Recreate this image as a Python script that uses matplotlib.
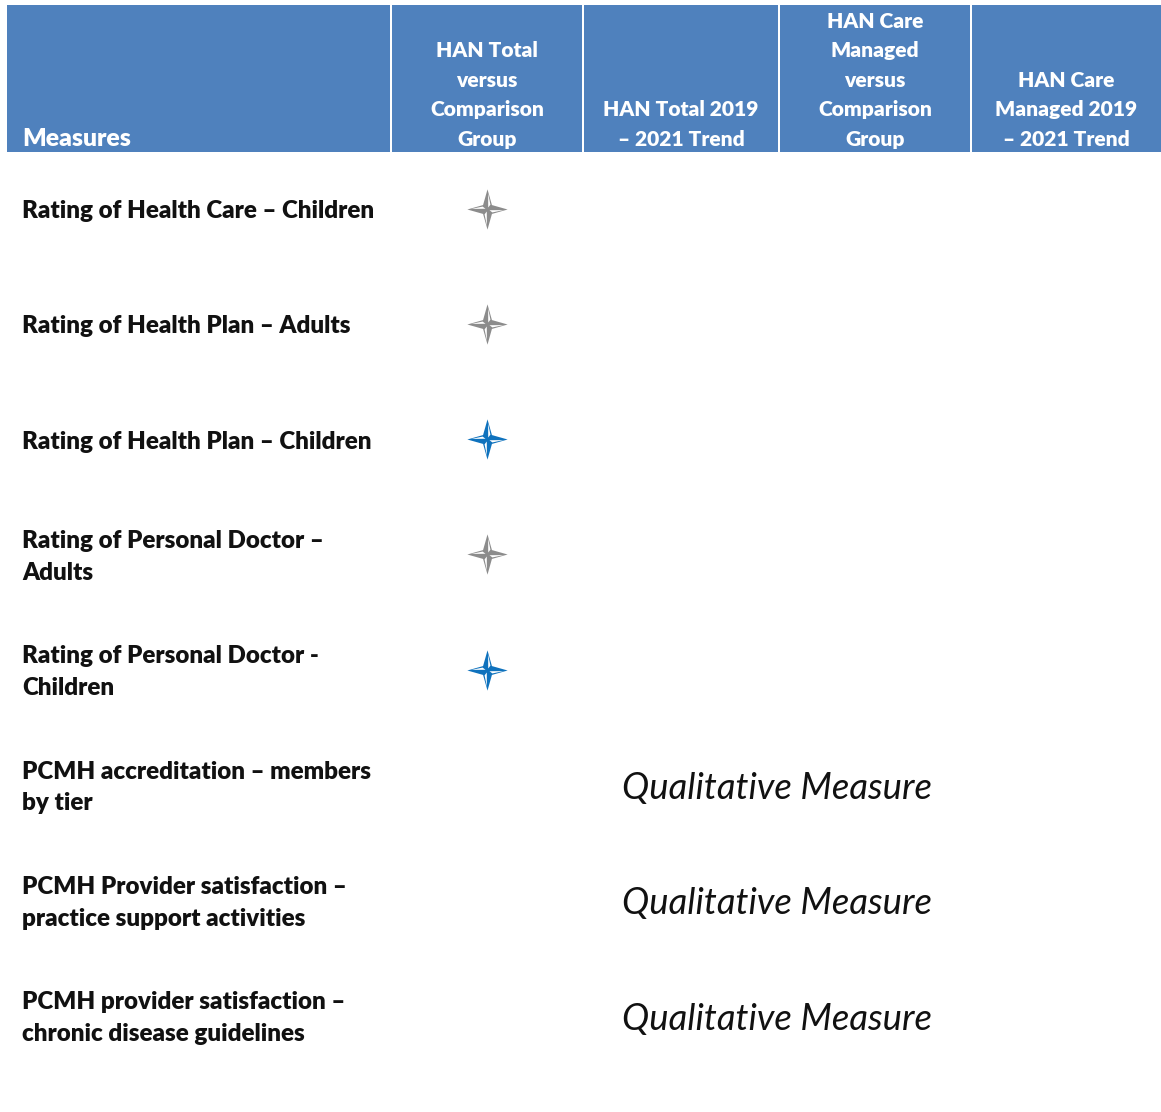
import numpy as np
import matplotlib
matplotlib.use('Agg')
import matplotlib.pyplot as plt
from matplotlib.path import Path
from matplotlib.patches import Rectangle

headers = ['Measures', 'HAN Total\nversus\nComparison\nGroup', 'HAN Total 2019\n– 2021 Trend',
           'HAN Care\nManaged\nversus\nComparison\nGroup', 'HAN Care\nManaged 2019\n– 2021 Trend']
measures = ['Rating of Health Care – Children', 'Rating of Health Plan – Adults',
            'Rating of Health Plan – Children', 'Rating of Personal Doctor –\nAdults',
            'Rating of Personal Doctor -\nChildren', 'PCMH accreditation – members\nby tier',
            'PCMH Provider satisfaction –\npractice support activities',
            'PCMH provider satisfaction –\nchronic disease guidelines']
# 'gray' / 'blue' star in first column, None = qualitative row
ratings = ['gray', 'gray', 'blue', 'gray', 'blue', None, None, None]
qualitative_label = 'Qualitative Measure'

star_colors = {'gray': '#8c8c8c', 'blue': '#0f72bd'}
header_color = '#4f81bd'
col_edges = [7, 392, 584, 780, 972, 1161]
row_y0 = 210
row_pitch = 115.3
font = 'Lato'

# one arm pointing up, then turned through the four directions
def rotated(verts, k):
    a = -k * np.pi / 2
    rot = np.array([[np.cos(a), -np.sin(a)], [np.sin(a), np.cos(a)]])
    return verts @ rot.T

def star_paths():
    arm = np.array([[-0.22, 0.22], [0, 1], [0.22, 0.22], [0, 0]])
    sliver = np.array([[0.035, 0.2], [0.03, 0.8], [0.145, 0.24], [0.035, 0.1]])
    outer = np.vstack([rotated(arm, k) for k in range(4)])
    outer_path = Path(np.vstack([outer, outer[:1]]), closed=True)
    v = []
    c = []
    for k in range(4):
        s = rotated(sliver, k)
        v += list(s) + [s[0]]
        c += [Path.MOVETO, Path.LINETO, Path.LINETO, Path.LINETO, Path.CLOSEPOLY]
    return outer_path, Path(np.array(v), c)

fig = plt.figure(figsize=(11.61, 11.12), dpi=100)
ax = fig.add_axes([0, 0, 1, 1])
ax.set_xlim(0, 1161)
ax.set_ylim(1112, 0)
ax.axis('off')

for i, h in enumerate(headers):
    left, right = col_edges[i], col_edges[i + 1]
    gap = 2 if i < len(headers) - 1 else 0
    ax.add_patch(Rectangle((left, 5), right - left - gap, 147, fc=header_color, ec='none'))
    if i == 0:
        ax.text(22, 149.5, h, color='white', fontsize=17.8, fontweight=800, family=font, ha='left', va='bottom')
    else:
        ax.text((left + right - gap) / 2, 149, h, color='white', fontsize=15.1, fontweight=800,
                family=font, ha='center', va='bottom', linespacing=1.66)

outer_path, sliver_path = star_paths()
for i, (m, r) in enumerate(zip(measures, ratings)):
    y = row_y0 + i * row_pitch
    ax.text(22, y + 1, m, color='#111111', fontsize=17.4, fontweight=800, family=font,
            ha='left', va='center', linespacing=1.55)
    if r is None:
        ax.text(777, y + 2, qualitative_label, color='#111111', fontsize=26.3, style='italic', family=font,
                ha='center', va='center')
    else:
        cx = (col_edges[1] + col_edges[2] - 2) / 2 - 0.5
        ax.plot([cx], [y - 1.5], marker=outer_path, ms=29, mfc=star_colors[r], mec='none', ls='none')
        ax.plot([cx], [y - 1.5], marker=sliver_path, ms=29 * 0.8, mfc='white', mec='none', ls='none')

fig.savefig('out.png', dpi=100)
